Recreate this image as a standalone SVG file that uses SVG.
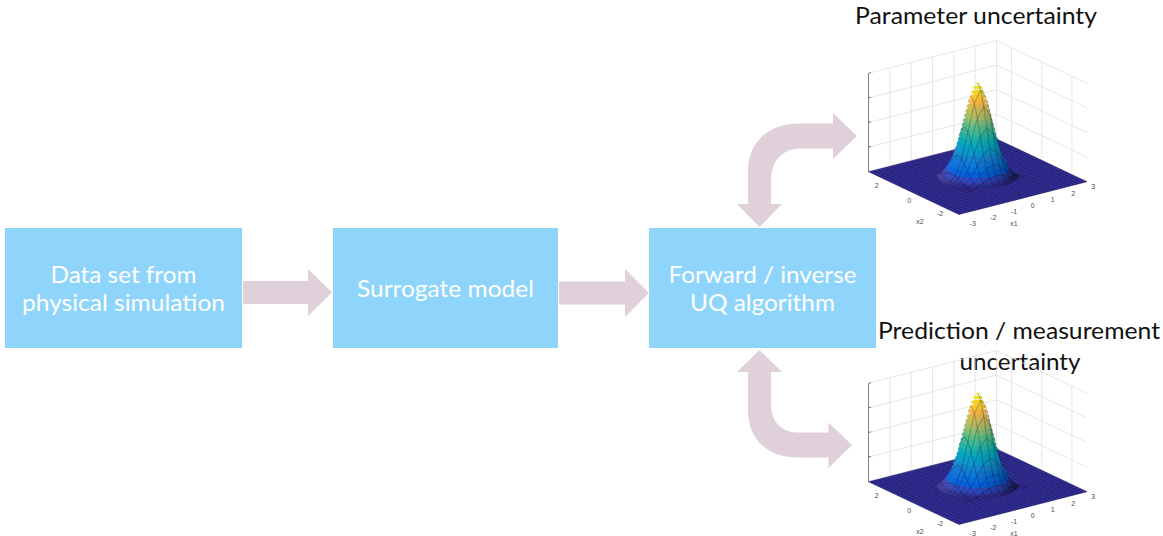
<svg xmlns="http://www.w3.org/2000/svg" width="1163" height="536" viewBox="0 0 1163 536">
<style>
  .box{fill:#8fd5fb}
  .lbl{font-family:Lato,"Open Sans","Liberation Sans",sans-serif;font-size:23.5px;fill:#fff;text-anchor:middle}
  .ttl{font-family:Lato,"Open Sans","Liberation Sans",sans-serif;font-size:23.5px;fill:#111;text-anchor:middle}
  .arrow{fill:#dfd0da}
  .grid{fill:none;stroke:#dcdcdc;stroke-width:0.7}
  .zaxis{fill:none;stroke:#4a4a4a;stroke-width:0.7}
  .tick{font-family:"Liberation Sans",Arial,sans-serif;font-size:7px;fill:#4d4d4d;text-anchor:middle}
  .mesh{fill:none;stroke:#000;stroke-opacity:0.45;stroke-width:0.55;stroke-linejoin:round}
</style>
<defs>
  <!-- floor mesh: pattern space is the (x1, x2) data plane, step 0.2 -->
  <pattern id="floorMesh" patternUnits="userSpaceOnUse" x="-0.1" y="-0.1" width="0.2" height="0.2"
           patternTransform="matrix(21.333 -5.467 -15.083 -7.133 977.75 176.7)">
    <rect x="-0.1" y="-0.1" width="0.4" height="0.4" fill="#342f98"/>
    <path d="M-0.1 0.1H0.3M0.1 -0.1V0.3" stroke="#14104a" stroke-opacity="0.8" stroke-width="0.03"/>
  </pattern>
  <radialGradient id="baseGlow">
    <stop offset="0" stop-color="#3348c0" stop-opacity="0.9"/>
    <stop offset="0.7" stop-color="#3441b4" stop-opacity="0.6"/>
    <stop offset="1" stop-color="#342f98" stop-opacity="0"/>
  </radialGradient>
  <radialGradient id="lowSlope">
    <stop offset="0" stop-color="#2d50cc"/>
    <stop offset="0.85" stop-color="#2d48c3" stop-opacity="0.9"/>
    <stop offset="1" stop-color="#2f45bb" stop-opacity="0.35"/>
  </radialGradient>
  <linearGradient id="peakShade" gradientUnits="userSpaceOnUse" x1="940" y1="0" x2="1020" y2="0">
    <stop offset="0" stop-color="#fff" stop-opacity="0.12"/>
    <stop offset="0.4" stop-color="#000" stop-opacity="0"/>
    <stop offset="0.7" stop-color="#000" stop-opacity="0.18"/>
    <stop offset="1" stop-color="#000" stop-opacity="0.45"/>
  </linearGradient>

  <!-- 3-D surface plot of a 2-D Gaussian over x1, x2 in [-3, 3] -->
  <g id="surfPlot">
    <!-- back walls -->
    <path class="grid" d="M868.5 147.1L996.5 114.3M868.5 122.5L996.5 89.7M868.5 97.9L996.5 65.1M868.5 73.3L996.5 40.5
      M889.83 166.23V67.83M911.16 160.77V62.37M932.49 155.3V56.9M953.82 149.83V51.43M975.15 144.37V45.97M996.5 138.9V40.5
      M996.5 114.3L1087 157.1M996.5 89.7L1087 132.5M996.5 65.1L1087 107.9M996.5 40.5L1087 83.3
      M1011.58 146.03V47.63M1041.75 160.3V61.9M1071.92 174.57V76.17"/>
    <path class="zaxis" d="M868.5 171.7V73.3M868.5 147.1l2.6 -0.67M868.5 122.5l2.6 -0.67M868.5 97.9l2.6 -0.67M868.5 73.3l2.6 -0.67"/>

    <!-- floor of the surface -->
    <polygon points="868.5,171.7 959,214.5 1087,181.7 996.5,138.9" fill="url(#floorMesh)" stroke="#1a1560" stroke-width="0.5"/>

    <!-- peak, stacked horizontal slices coloured by height -->
    <g>
      <ellipse cx="977.75" cy="174.82" rx="40.9" ry="14.08" fill="url(#baseGlow)"/>
      <ellipse cx="977.75" cy="172" rx="35.8" ry="12.32" fill="url(#lowSlope)"/>
      <ellipse cx="977.75" cy="167.3" rx="31.4" ry="10.8" fill="#0562e0"/>
      <ellipse cx="977.75" cy="162.6" rx="28.5" ry="9.81" fill="#0871de"/>
      <ellipse cx="977.75" cy="157.9" rx="26.2" ry="9.03" fill="#117ada"/>
      <ellipse cx="977.75" cy="153.2" rx="24.4" ry="8.38" fill="#1487d3"/>
      <ellipse cx="977.75" cy="148.5" rx="22.7" ry="7.81" fill="#0a9ad0"/>
      <ellipse cx="977.75" cy="143.8" rx="21.2" ry="7.29" fill="#06a5c7"/>
      <ellipse cx="977.75" cy="139.1" rx="19.8" ry="6.82" fill="#0cadbb"/>
      <ellipse cx="977.75" cy="134.4" rx="18.5" ry="6.36" fill="#24b5aa"/>
      <ellipse cx="977.75" cy="129.7" rx="17.2" ry="5.93" fill="#41ba98"/>
      <ellipse cx="977.75" cy="125" rx="16" ry="5.5" fill="#5bbd8a"/>
      <ellipse cx="977.75" cy="120.3" rx="14.8" ry="5.09" fill="#83bf79"/>
      <ellipse cx="977.75" cy="115.6" rx="13.6" ry="4.67" fill="#a8be69"/>
      <ellipse cx="977.75" cy="110.9" rx="12.35" ry="4.25" fill="#c2bc5f"/>
      <ellipse cx="977.75" cy="106.2" rx="11.1" ry="3.82" fill="#dcba54"/>
      <ellipse cx="977.75" cy="101.5" rx="9.77" ry="3.36" fill="#f8ba44"/>
      <ellipse cx="977.75" cy="96.8" rx="8.34" ry="2.87" fill="#fcc931"/>
      <ellipse cx="977.75" cy="92.1" rx="6.71" ry="2.31" fill="#f8da24"/>
      <ellipse cx="977.75" cy="87.4" rx="4.69" ry="1.61" fill="#f5e81a"/>
      <ellipse cx="977.75" cy="83.64" rx="2.07" ry="0.71" fill="#f7f512"/>
    </g>
    <!-- light from the left, shadow on the right flank -->
    <path fill="url(#peakShade)" d="M977.75 82.93L979.82 83.64L982.44 87.4L984.46 92.1L986.09 96.8L987.52 101.5L988.85 106.2L990.1 110.9L991.35 115.6L992.55 120.3L993.75 125L994.95 129.7L996.25 134.4L997.55 139.1L998.95 143.8L1000.45 148.5L1002.15 153.2L1003.95 157.9L1006.25 162.6L1009.15 167.3L1013.55 172L1018.65 174.82
      A40.9 14.08 0 0 1 936.85 174.82L941.95 172L946.35 167.3L949.25 162.6L951.55 157.9L953.35 153.2L955.05 148.5L956.55 143.8L957.95 139.1L959.25 134.4L960.55 129.7L961.75 125L962.95 120.3L964.15 115.6L965.4 110.9L966.65 106.2L967.98 101.5L969.41 96.8L971.04 92.1L973.06 87.4L975.68 83.64Z"/>

    <!-- mesh lines of constant x2 -->
    <polyline class="mesh" points="948.77,183.89 955.17,175.81 961.57,158.81 967.97,131.73 974.37,103.37 980.77,89.94 986.74,98.77"/>
    <polyline class="mesh" points="951.78,185.73 958.18,178.78 964.58,164.45 970.98,141.81 977.38,118.1 983.78,106.72 990.18,114.82 995.51,131.57"/>
    <polyline class="mesh" points="954.8,187.71 961.2,182.21 967.6,171.34 974,154.43 980.4,136.75 986.8,128.03 993.2,133.47 999.6,147.87 1004.93,159.6"/>
    <polyline class="mesh" points="957.82,189.67 964.22,185.56 970.62,178.02 977.02,166.61 983.42,154.71 989.82,148.54 996.22,151.43 1002.62,160.05 1009.02,168.18 1013.92,171.81"/>
    <polyline class="mesh" points="960.83,191.5 967.23,188.47 973.63,183.5 980.03,176.36 986.43,168.94 992.83,164.75 999.23,165.66 1005.63,169.8 1012.03,173.66 1018.43,175.35 1022.91,175.32"/>
    <polyline class="mesh" points="963.85,193.2 970.25,190.87 976.65,187.58 983.05,183.21 989.45,178.7 995.85,175.79 1002.25,175.42 1008.65,176.65 1015.05,177.74 1021.45,177.75 1027.85,176.8"/>
    <!-- mesh lines of constant x1 -->
    <polyline class="mesh" points="973.27,192.83 967.23,188.47 961.2,182.21 955.17,175.81 952.15,173.79 949.13,172.95 946.12,173.07 940.08,174.14"/>
    <polyline class="mesh" points="979.67,190.48 976.65,187.58 973.63,183.5 970.62,178.02 967.6,171.34 964.58,164.45 961.57,158.81 958.55,155.78 955.53,155.95 952.52,158.75 949.5,162.78"/>
    <polyline class="mesh" points="986.07,187.65 983.05,183.21 980.03,176.36 977.02,166.61 974,154.43 970.98,141.8 967.97,131.73 964.95,127.03 961.93,128.87 958.92,136.1"/>
    <polyline class="mesh" points="992.47,184.75 989.45,178.7 986.43,168.94 983.42,154.7 980.4,136.75 977.38,118.1 974.37,103.37 971.35,96.91 968.33,100.51"/>
    <polyline class="mesh" points="998.87,182.56 995.85,175.79 992.83,164.75 989.82,148.53 986.8,128.03 983.78,106.72 980.77,89.94 977.75,82.7"/>
    <polyline class="mesh" points="1005.27,181.47 1002.25,175.42 999.23,165.66 996.22,151.42 993.2,133.47 990.18,114.82 987.32,100.66"/>
    <polyline class="mesh" points="1011.67,181.09 1008.65,176.65 1005.63,169.8 1002.62,160.05 999.6,147.87 997.04,137.06"/>
    <polyline class="mesh" points="1018.07,180.64 1015.05,177.74 1012.03,173.66 1009.02,168.18 1006.6,162.9"/>

    <!-- tick labels -->
    <text class="tick" x="876.7" y="187.5">2</text>
    <text class="tick" x="909.3" y="202.5">0</text>
    <text class="tick" x="940" y="215.8">-2</text>
    <text class="tick" x="920" y="223.5">x2</text>
    <text class="tick" x="972.7" y="225.8">-3</text>
    <text class="tick" x="993.3" y="219.8">-2</text>
    <text class="tick" x="1014" y="214.2">-1</text>
    <text class="tick" x="1032.7" y="207.5">0</text>
    <text class="tick" x="1052.7" y="201.5">1</text>
    <text class="tick" x="1073.3" y="195.8">2</text>
    <text class="tick" x="1093.3" y="188.5">3</text>
    <text class="tick" x="1014" y="225.5">x1</text>
  </g>
</defs>

<!-- connectors -->
<g id="connectors">
  <path class="arrow" d="M243 281H308V269L332 292.5L308 316V304H243Z"/>
  <path class="arrow" d="M559 281.5H625V269L649 293L625 317V304.5H559Z"/>
  <path class="arrow" d="M737 204H748V172C748 140 770 123.5 800 123.5H833V113L857 136L833 159V148.5H800C784 148.5 771 160 771 180V204H782L759.5 227Z"/>
  <path class="arrow" d="M759.5 350L782 372H771V405C771 422 782 432.5 798 432.5H828.5V422.5L852 445L828.5 468V457.5H798C768 457.5 748 440 748 410V372H737Z"/>
</g>

<g id="data-set">
  <rect class="box" x="5" y="228" width="237" height="120"/>
  <text class="lbl" x="123.5" y="283" textLength="146" lengthAdjust="spacingAndGlyphs">Data set from</text>
  <text class="lbl" x="123.5" y="310.5" textLength="203" lengthAdjust="spacingAndGlyphs">physical simulation</text>
</g>

<g id="surrogate-model">
  <rect class="box" x="333" y="228" width="225" height="120"/>
  <text class="lbl" x="445.5" y="297" textLength="177" lengthAdjust="spacingAndGlyphs">Surrogate model</text>
</g>

<g id="uq-algorithm">
  <rect class="box" x="649" y="228" width="227" height="120"/>
  <text class="lbl" x="762.5" y="282.5" textLength="188" lengthAdjust="spacingAndGlyphs">Forward / inverse</text>
  <text class="lbl" x="762.5" y="311" textLength="145" lengthAdjust="spacingAndGlyphs">UQ algorithm</text>
</g>

<g id="parameter-uncertainty">
  <text class="ttl" x="976" y="23.5" textLength="242" lengthAdjust="spacingAndGlyphs">Parameter uncertainty</text>
  <use href="#surfPlot"/>
</g>

<g id="prediction-uncertainty">
  <text class="ttl" x="1019" y="338.5" textLength="282" lengthAdjust="spacingAndGlyphs">Prediction / measurement</text>
  <text class="ttl" x="1020" y="370" textLength="121" lengthAdjust="spacingAndGlyphs">uncertainty</text>
  <use href="#surfPlot" transform="translate(0 310)"/>
</g>
</svg>
